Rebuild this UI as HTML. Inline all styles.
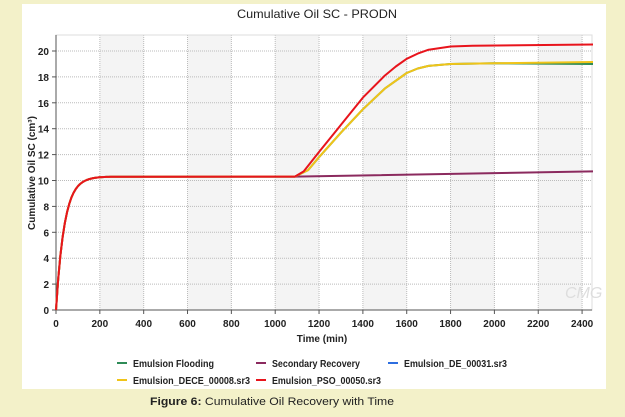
<!DOCTYPE html>
<html><head><meta charset="utf-8"><style>
body{margin:0;width:625px;height:412px;background:#f3f1c9;overflow:hidden;font-family:"Liberation Sans",sans-serif}
</style></head><body>
<svg width="625" height="412" xmlns="http://www.w3.org/2000/svg" font-family="Liberation Sans, sans-serif">
<rect x="22" y="4" width="584" height="385" fill="#fff"/>
<text x="317" y="18" font-size="12" text-anchor="middle" fill="#222" textLength="160" lengthAdjust="spacingAndGlyphs">Cumulative Oil SC - PRODN</text>
<g id="bands"></g>
<g id="grid"></g>
<g id="series" fill="none" stroke-width="2"></g>
<text x="565" y="298" font-size="16" fill="#ddd" font-style="italic">CMG</text>
<text x="322" y="342" font-size="10" font-weight="bold" text-anchor="middle" fill="#222">Time (min)</text>
<text transform="translate(35,173) rotate(-90)" font-size="10" font-weight="bold" text-anchor="middle" fill="#222">Cumulative Oil SC (cm³)</text>
<g font-size="10" font-weight="bold" fill="#222" lengthAdjust="spacingAndGlyphs">
<line x1="117" y1="363" x2="127" y2="363" stroke="#2e8b57" stroke-width="2"/><text x="133" y="367" textLength="81" lengthAdjust="spacingAndGlyphs">Emulsion Flooding</text>
<line x1="256" y1="363" x2="266" y2="363" stroke="#8b2a5e" stroke-width="2"/><text x="272" y="367" textLength="88" lengthAdjust="spacingAndGlyphs">Secondary Recovery</text>
<line x1="388" y1="363" x2="398" y2="363" stroke="#2d6ee0" stroke-width="2"/><text x="404" y="367" textLength="103" lengthAdjust="spacingAndGlyphs">Emulsion_DE_00031.sr3</text>
<line x1="117" y1="380" x2="127" y2="380" stroke="#f0c419" stroke-width="2"/><text x="133" y="384" textLength="117" lengthAdjust="spacingAndGlyphs">Emulsion_DECE_00008.sr3</text>
<line x1="256" y1="380" x2="266" y2="380" stroke="#e8141c" stroke-width="2"/><text x="272" y="384" textLength="109" lengthAdjust="spacingAndGlyphs">Emulsion_PSO_00050.sr3</text>
</g>
<text x="150" y="405" font-size="11" fill="#222" textLength="244" lengthAdjust="spacingAndGlyphs"><tspan font-weight="bold">Figure 6:</tspan> Cumulative Oil Recovery with Time</text>
</svg>
<script>
const X=t=>56+t*0.2192, Y=v=>310-v*12.95, L=56,R=592,T=35,B=310;
const ns="http://www.w3.org/2000/svg";
function el(p,tag,a){const e=document.createElementNS(ns,tag);for(const k in a)e.setAttribute(k,a[k]);p.appendChild(e);return e;}
const bands=document.getElementById('bands'),grid=document.getElementById('grid'),svg=document.querySelector('svg'),ser=document.getElementById('series');
for(let t=200;t<2450;t+=400){el(bands,'rect',{x:X(t),y:T,width:Math.min(X(t+200),R)-X(t),height:B-T,fill:'#f4f4f4'});}
for(let t=200;t<=2400;t+=200)el(grid,'line',{x1:X(t),x2:X(t),y1:T,y2:B,stroke:'#bbb','stroke-dasharray':'1,1'});
for(let v=2;v<=20;v+=2)el(grid,'line',{x1:L,x2:R,y1:Y(v),y2:Y(v),stroke:'#bbb','stroke-dasharray':'1,1'});
el(grid,'rect',{x:L,y:T,width:R-L,height:B-T,fill:'none',stroke:'#ddd'});
el(grid,'line',{x1:L,x2:L,y1:T,y2:B,stroke:'#555'});el(grid,'line',{x1:L,x2:R,y1:B,y2:B,stroke:'#555'});
for(let t=0;t<=2400;t+=200){el(grid,'line',{x1:X(t),x2:X(t),y1:B,y2:B+4,stroke:'#555'});const tx=el(svg,'text',{x:X(t),y:B+17,'font-size':10,'font-weight':'bold','text-anchor':'middle',fill:'#222'});tx.textContent=t;}
for(let v=0;v<=20;v+=2){el(grid,'line',{x1:L-4,x2:L,y1:Y(v),y2:Y(v),stroke:'#555'});const tx=el(svg,'text',{x:L-7,y:Y(v)+4,'font-size':10,'font-weight':'bold','text-anchor':'end',fill:'#222'});tx.textContent=v;}
const early=[];for(let t=0;t<=260;t+=10)early.push([t,10.3*(1-Math.exp(-t/38))]);
function path(pts,c){el(ser,'polyline',{points:pts.map(p=>X(p[0]).toFixed(1)+','+Y(p[1]).toFixed(1)).join(' '),stroke:c,'stroke-linejoin':'round'});}
const base=early.concat([[1090,10.3]]);
path(base.concat([[2450,10.7]]),'#8b2a5e');
const yl=[[1150,10.8],[1200,11.8],[1300,13.7],[1400,15.5],[1500,17.1],[1600,18.3],[1650,18.65],[1700,18.85],[1800,19.0],[2000,19.05]];
path(base.concat(yl,[[2450,19.0]]),'#2e8b57');
path(base.concat(yl,[[2450,19.15]]),'#f0c419');
path(base.concat([[1130,10.7],[1200,12.2],[1300,14.3],[1400,16.4],[1500,18.1],[1550,18.8],[1600,19.4],[1650,19.8],[1700,20.1],[1800,20.35],[1900,20.4],[2450,20.5]]),'#e8141c');
</script>
</body></html>
